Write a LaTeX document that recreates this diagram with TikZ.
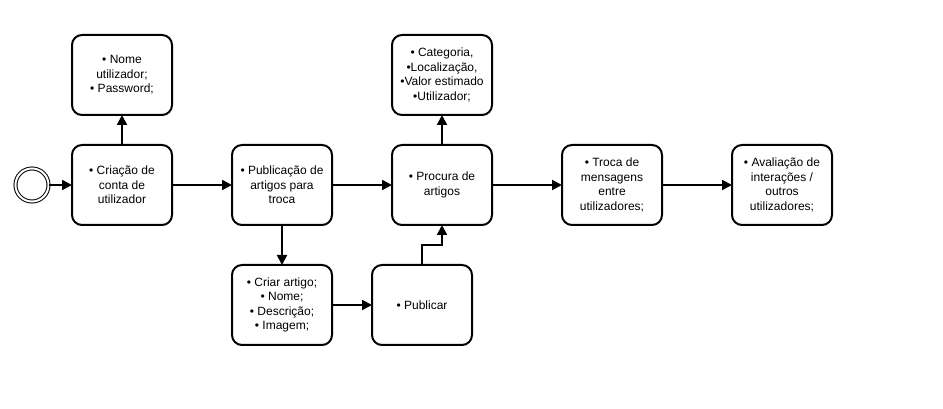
\documentclass[tikz,border=0pt]{standalone}
\usepackage{fontspec}
\setmainfont{Liberation Sans}
\usetikzlibrary{arrows.meta,positioning}

\begin{document}
\begin{tikzpicture}[x=0.75pt,y=-0.75pt,->,>={Triangle[length=7.5pt,width=7.5pt]},line width=1.5pt,node distance=45pt,font=\fontsize{9}{10.9}\selectfont]
  \tikzstyle{task}=[draw,rounded corners=7.5pt,minimum width=75pt,minimum height=60pt,align=center,inner sep=2pt,outer sep=0pt]
  \tikzstyle{startevent}=[circle,draw,line width=0.75pt,double,double distance=1.5pt,minimum size=24.8pt,inner sep=0pt,outer sep=0pt]

  \useasboundingbox (0,0) rectangle (943,409);

  \node[startevent] (start) at (32,185) {};
  \node[task] (create) at (122,185) {• Criação de\\conta de\\utilizador};
  \node[task] (login) [above=22.5pt of create] {• Nome\\utilizador;\\• Password;};
  \node[task] (publish) [right=of create] {• Publicação de\\artigos para\\troca};
  \node[task] (search) [right=of publish] {• Procura de\\artigos};
  \node[task] (filters) [above=22.5pt of search] {• Categoria,\\•Localização,\\•Valor estimado\\•Utilizador;};
  \node[task] (chat) [right=52.5pt of search] {• Troca de\\mensagens\\entre\\utilizadores;};
  \node[task] (rating) [right=52.5pt of chat] {• Avaliação de\\interações /\\outros\\utilizadores;};
  \node[task] (newitem) [below=30pt of publish] {• Criar artigo;\\• Nome;\\• Descrição;\\• Imagem;};
  \node[task] (post) [right=30pt of newitem] {• Publicar};

  \draw (start) -- (create);
  \draw (create) -- (login);
  \draw (create) -- (publish);
  \draw (publish) -- (search);
  \draw (publish) -- (newitem);
  \draw (search) -- (filters);
  \draw (search) -- (chat);
  \draw (chat) -- (rating);
  \draw (newitem) -- (post);
  \draw (post.north) -- ++(0,-20) -| (search.south);
\end{tikzpicture}
\end{document}
